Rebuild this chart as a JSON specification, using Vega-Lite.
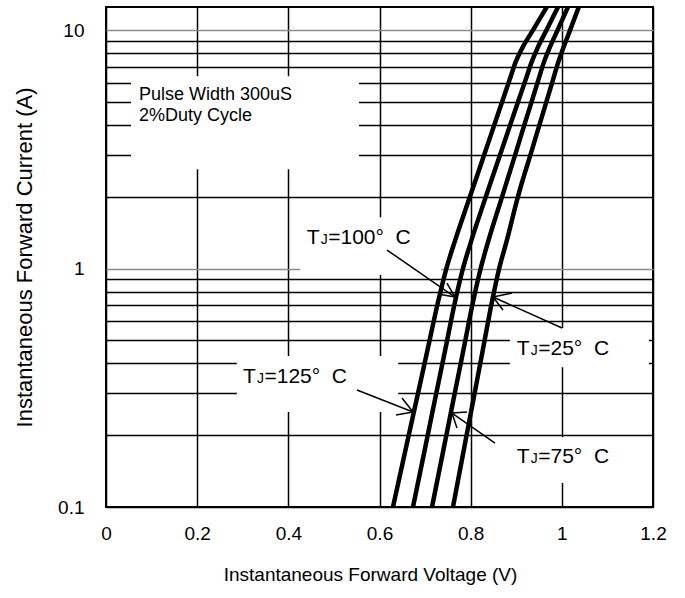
{
  "$schema": "https://vega.github.io/schema/vega-lite/v6.json",
  "width": 547,
  "height": 500,
  "autosize": "none",
  "padding": {"left": 106, "top": 7, "right": 32, "bottom": 91},
  "config": {
    "view": {"stroke": "black", "strokeWidth": 2},
    "font": "Liberation Sans",
    "text": {"font": "Liberation Sans", "color": "black"}
  },
  "datasets": {
    "boxes": [
      {"v": 0.0549, "v2": 0.555, "i": 2.61, "i2": 6.41},
      {"v": 0.426, "v2": 0.735, "i": 0.94, "i2": 1.64},
      {"v": 0.886, "v2": 1.191, "i": 0.386, "i2": 0.563},
      {"v": 0.287, "v2": 0.641, "i": 0.25, "i2": 0.43},
      {"v": 0.82, "v2": 1.19, "i": 0.126, "i2": 0.196}
    ],
    "curves": [
      {"series": "125", "v": 0.6296, "i": 0.1},
      {"series": "125", "v": 0.6570, "i": 0.1734},
      {"series": "125", "v": 0.6812, "i": 0.2809},
      {"series": "125", "v": 0.7053, "i": 0.4552},
      {"series": "125", "v": 0.7294, "i": 0.7378},
      {"series": "125", "v": 0.7470, "i": 1.005},
      {"series": "125", "v": 0.7661, "i": 1.316},
      {"series": "125", "v": 0.7981, "i": 1.994},
      {"series": "125", "v": 0.8332, "i": 3.14},
      {"series": "125", "v": 0.8525, "i": 4.036},
      {"series": "125", "v": 0.8696, "i": 5.04},
      {"series": "125", "v": 0.8852, "i": 6.171},
      {"series": "125", "v": 0.8986, "i": 7.341},
      {"series": "125", "v": 0.9131, "i": 8.405},
      {"series": "125", "v": 0.9367, "i": 10.0},
      {"series": "125", "v": 0.9670, "i": 12.5},
      {"series": "100", "v": 0.6735, "i": 0.1},
      {"series": "100", "v": 0.6992, "i": 0.1734},
      {"series": "100", "v": 0.7215, "i": 0.2809},
      {"series": "100", "v": 0.7441, "i": 0.4552},
      {"series": "100", "v": 0.7665, "i": 0.7378},
      {"series": "100", "v": 0.7834, "i": 1.005},
      {"series": "100", "v": 0.8018, "i": 1.316},
      {"series": "100", "v": 0.8330, "i": 1.994},
      {"series": "100", "v": 0.8681, "i": 3.14},
      {"series": "100", "v": 0.8874, "i": 4.036},
      {"series": "100", "v": 0.9045, "i": 5.04},
      {"series": "100", "v": 0.9203, "i": 6.171},
      {"series": "100", "v": 0.9337, "i": 7.341},
      {"series": "100", "v": 0.9466, "i": 8.405},
      {"series": "100", "v": 0.9664, "i": 10.0},
      {"series": "100", "v": 0.9916, "i": 12.5},
      {"series": "75", "v": 0.7152, "i": 0.1},
      {"series": "75", "v": 0.7402, "i": 0.1734},
      {"series": "75", "v": 0.7621, "i": 0.2809},
      {"series": "75", "v": 0.7841, "i": 0.4552},
      {"series": "75", "v": 0.8060, "i": 0.7378},
      {"series": "75", "v": 0.8222, "i": 1.005},
      {"series": "75", "v": 0.8393, "i": 1.316},
      {"series": "75", "v": 0.8687, "i": 1.994},
      {"series": "75", "v": 0.9008, "i": 3.14},
      {"series": "75", "v": 0.9183, "i": 4.036},
      {"series": "75", "v": 0.9341, "i": 5.04},
      {"series": "75", "v": 0.9484, "i": 6.171},
      {"series": "75", "v": 0.9607, "i": 7.341},
      {"series": "75", "v": 0.9729, "i": 8.405},
      {"series": "75", "v": 0.9907, "i": 10.0},
      {"series": "75", "v": 1.0135, "i": 12.5},
      {"series": "25", "v": 0.7612, "i": 0.1},
      {"series": "25", "v": 0.7849, "i": 0.1734},
      {"series": "25", "v": 0.8058, "i": 0.2809},
      {"series": "25", "v": 0.8266, "i": 0.4552},
      {"series": "25", "v": 0.8475, "i": 0.7378},
      {"series": "25", "v": 0.8628, "i": 1.005},
      {"series": "25", "v": 0.8795, "i": 1.316},
      {"series": "25", "v": 0.9034, "i": 1.994},
      {"series": "25", "v": 0.9343, "i": 3.14},
      {"series": "25", "v": 0.9514, "i": 4.036},
      {"series": "25", "v": 0.9666, "i": 5.04},
      {"series": "25", "v": 0.9804, "i": 6.171},
      {"series": "25", "v": 0.9922, "i": 7.341},
      {"series": "25", "v": 1.0032, "i": 8.405},
      {"series": "25", "v": 1.0181, "i": 10.0},
      {"series": "25", "v": 1.0372, "i": 12.5}
    ],
    "arrows": [
      {"v": 0.6165, "i": 1.196, "v2": 0.7656, "i2": 0.7596},
      {"v": 0.7656, "i": 0.7596, "v2": 0.7479, "i2": 0.868},
      {"v": 0.7656, "i": 0.7596, "v2": 0.7310, "i2": 0.7795},
      {"v": 1.0004, "i": 0.563, "v2": 0.849, "i2": 0.7596},
      {"v": 0.849, "i": 0.7596, "v2": 0.8907, "i2": 0.7894},
      {"v": 0.849, "i": 0.7596, "v2": 0.8709, "i2": 0.6699},
      {"v": 0.5506, "i": 0.3094, "v2": 0.6735, "i2": 0.2502},
      {"v": 0.6735, "i": 0.2502, "v2": 0.6494, "i2": 0.2864},
      {"v": 0.6735, "i": 0.2502, "v2": 0.6362, "i2": 0.243},
      {"v": 0.8534, "i": 0.1855, "v2": 0.759, "i2": 0.2478},
      {"v": 0.759, "i": 0.2478, "v2": 0.792, "i2": 0.2502},
      {"v": 0.759, "i": 0.2478, "v2": 0.77, "i2": 0.2144}
    ],
    "labels": [
      {"v": 0.4403, "i": 1.267, "num": "=100°\u00a0\u00a0C"},
      {"v": 0.901, "i": 0.4338, "num": "=25°\u00a0\u00a0C"},
      {"v": 0.3005, "i": 0.3311, "num": "=125°\u00a0\u00a0C"},
      {"v": 0.901, "i": 0.1529, "num": "=75°\u00a0\u00a0C"}
    ],
    "notes": [
      {"v": 0.0724, "i": 5.088, "txt": "Pulse Width 300uS"},
      {"v": 0.0724, "i": 4.167, "txt": "2%Duty Cycle"}
    ]
  },
  "encoding": {
    "x": {
      "field": "v",
      "type": "quantitative",
      "scale": {"domain": [0, 1.2], "nice": false, "zero": false},
      "axis": {
        "values": [0, 0.2, 0.4, 0.6, 0.8, 1, 1.2],
        "format": "~g",
        "grid": true,
        "gridColor": "black",
        "gridWidth": 1.5,
        "domain": false,
        "ticks": false,
        "tickSize": 0,
        "labelPadding": 17,
        "labelFontSize": 19,
        "labelColor": "black",
        "labelFlush": false,
        "labelOverlap": false,
        "title": "Instantaneous Forward Voltage (V)",
        "titleFontSize": 19,
        "titleFontWeight": "normal",
        "titleColor": "black",
        "titlePadding": 22,
        "titleX": 264
      }
    },
    "y": {
      "field": "i",
      "type": "quantitative",
      "scale": {"type": "log", "domain": [0.1, 12.5], "nice": false},
      "axis": {
        "values": [0.1, 0.2, 0.3, 0.4, 0.5, 0.6, 0.7, 0.8, 0.9, 1, 2, 3, 4, 5, 6, 7, 8, 9, 10],
        "format": "~g",
        "labelExpr": "datum.value === 0.1 || datum.value === 1 || datum.value === 10 ? datum.label : ''",
        "grid": true,
        "gridColor": {"condition": {"test": "datum.value === 1 || datum.value === 10", "value": "#8c8c8c"}, "value": "black"},
        "gridWidth": 1.5,
        "domain": false,
        "ticks": false,
        "tickSize": 0,
        "labelPadding": 22,
        "labelFontSize": 19,
        "labelColor": "black",
        "labelFlush": false,
        "labelOverlap": false,
        "title": "Instantaneous Forward Current (A)",
        "titleFontSize": 22,
        "titleFontWeight": "normal",
        "titleColor": "black",
        "titlePadding": 21
      }
    }
  },
  "layer": [
    {
      "data": {"name": "boxes"},
      "mark": {"type": "rect", "fill": "white", "strokeWidth": 0},
      "encoding": {"x2": {"field": "v2"}, "y2": {"field": "i2"}}
    },
    {
      "data": {"name": "curves"},
      "mark": {"type": "line", "color": "black", "strokeWidth": 4.5, "interpolate": "monotone", "clip": true},
      "encoding": {"detail": {"field": "series"}, "order": {"field": "i", "type": "quantitative"}}
    },
    {
      "data": {"name": "arrows"},
      "mark": {"type": "rule", "color": "black", "strokeWidth": 1.5},
      "encoding": {"x2": {"field": "v2"}, "y2": {"field": "i2"}}
    },
    {
      "data": {"name": "labels"},
      "mark": {"type": "text", "text": "T", "align": "left", "baseline": "alphabetic", "fontSize": 21, "color": "black"}
    },
    {
      "data": {"name": "labels"},
      "mark": {"type": "text", "text": "J", "align": "left", "baseline": "alphabetic", "fontSize": 14, "dx": 14, "color": "black"}
    },
    {
      "data": {"name": "labels"},
      "mark": {"type": "text", "align": "left", "baseline": "alphabetic", "fontSize": 21, "dx": 21.5, "color": "black"},
      "encoding": {"text": {"field": "num"}}
    },
    {
      "data": {"name": "notes"},
      "mark": {"type": "text", "align": "left", "baseline": "alphabetic", "fontSize": 18, "color": "black"},
      "encoding": {"text": {"field": "txt"}}
    }
  ]
}
